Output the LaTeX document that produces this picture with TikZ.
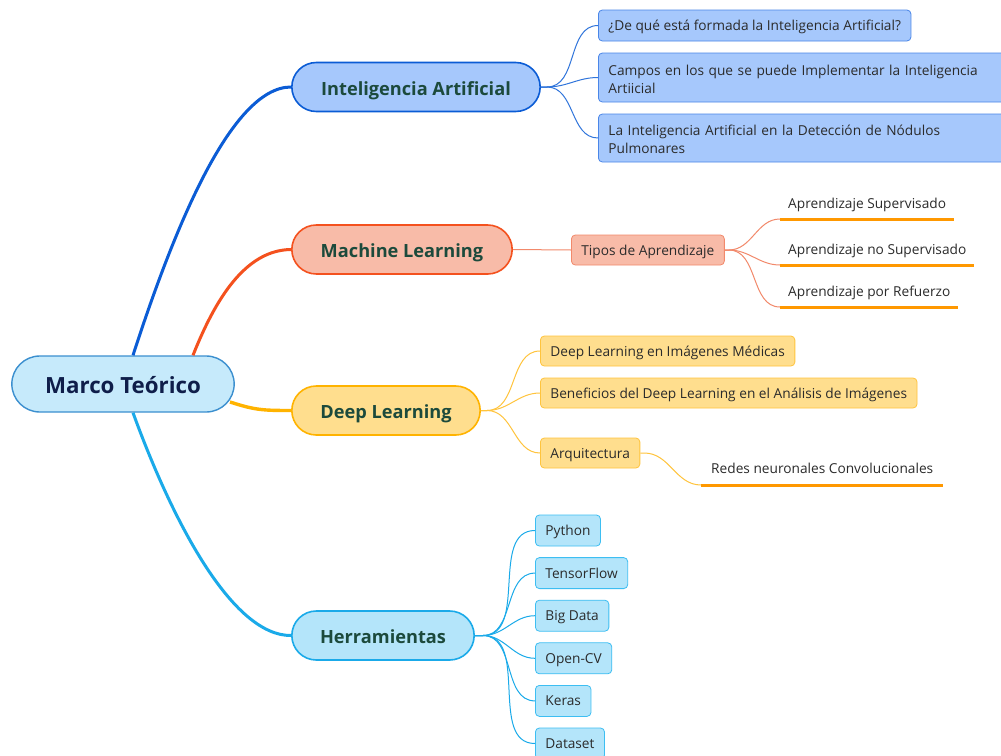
\documentclass[tikz,border=0pt]{standalone}
\usepackage{fontspec}
\setmainfont{Open Sans}
\usetikzlibrary{shapes.misc,calc}

\definecolor{centralfill}{HTML}{C6EAFB}
\definecolor{centraldraw}{HTML}{3B8FCF}
\definecolor{centraltext}{HTML}{0F1E4A}
\definecolor{topictext}{HTML}{1C4A3C}
\definecolor{leaftext}{HTML}{2B2B2B}
\definecolor{ialine}{HTML}{0B5CD5}
\definecolor{iafill}{HTML}{A6C8FC}
\definecolor{iaborder}{HTML}{4A86E8}
\definecolor{mlline}{HTML}{F4511E}
\definecolor{mlfill}{HTML}{F8BBA8}
\definecolor{mlborder}{HTML}{F2896B}
\definecolor{dlline}{HTML}{FFB300}
\definecolor{dlfill}{HTML}{FFDE8E}
\definecolor{dlborder}{HTML}{FFC43D}
\definecolor{hline}{HTML}{1AAAE9}
\definecolor{hfill}{HTML}{B4E5FA}
\definecolor{hborder}{HTML}{3DBEF2}
\definecolor{ulorange}{HTML}{FF9800}

\begin{document}
\begin{tikzpicture}[x=1pt,y=-1pt,
  central/.style={rounded rectangle, draw=centraldraw, fill=centralfill, line width=1.4pt,
    minimum width=229pt, minimum height=56pt, text=centraltext,
    font=\bfseries\fontsize{22.3}{26}\selectfont, text height=19pt, text depth=1pt},
  topic/.style={rounded rectangle, line width=1.6pt, minimum height=49pt,
    text=topictext, font=\bfseries\fontsize{18.2}{22}\selectfont,
    text height=17pt, text depth=0.6pt},
  box/.style={rectangle, rounded corners=4pt, line width=0.8pt, anchor=west,
    inner xsep=10pt, minimum height=31pt, text=leaftext, align=left,
    font=\fontsize{13.7}{18}\selectfont},
  leaf/.style={box, text height=11pt, text depth=1pt},
  twoline/.style={box, text height=11pt, text depth=16pt, text width=392pt},
  plain/.style={anchor=south west, inner xsep=8pt, minimum height=30pt,
    text=leaftext, font=\fontsize{13.7}{16}\selectfont,
    text height=11pt, text depth=1pt},
  ul/.style={ulorange, line width=3pt},
  branch/.style={line width=1pt}
]
\clip (0,0) rectangle (1001,755);
\fill[white] (0,0) rectangle (1001,755);

% central topic
\node[central] (mt) at (123,384) {Marco Teórico};

% main topics
\node[topic, draw=ialine, fill=iafill, minimum width=255pt] (ia) at (416,87) {Inteligencia Artificial};
\node[topic, draw=mlline, fill=mlfill, minimum width=227pt] (ml) at (402,249.5) {Machine Learning};
\node[topic, draw=dlline, fill=dlfill, minimum width=195pt] (dl) at (386,410.5) {Deep Learning};
\node[topic, draw=hline, fill=hfill, minimum width=189pt] (he) at (383,635.5) {Herramientas};

% main connectors
\draw[ialine, line width=3pt] ($(mt.north)+(10,0)$) .. controls (172,235) and (230,87) .. (ia.west);
\draw[mlline, line width=3pt] ($(mt.north)+(70,0)$) .. controls (215,300) and (245,250) .. (ml.west);
\draw[dlline, line width=3.4pt] ($(mt.center)+(107,18)$) .. controls (255,410) and (262,410.5) .. (dl.west);
\draw[hline, line width=3pt] ($(mt.south)+(10,0)$) .. controls (172,520) and (232,636) .. (he.west);

% Inteligencia Artificial
\node[leaf, draw=iaborder, fill=iafill] (ia1) at (598,25.5) {¿De qué está formada la Inteligencia Artificial?};
\node[twoline, draw=iaborder, fill=iafill, minimum height=49pt] (ia2) at (598,77.5)
  {Campos en los que se puede Implementar la Inteligencia\\Artiicial};
\node[twoline, draw=iaborder, fill=iafill, minimum height=48pt] (ia3) at (598,138)
  {La Inteligencia Artificial en la Detección de Nódulos\\Pulmonares};
\foreach \c in {ia1,ia2,ia3}
  \draw[branch, ialine!85] (ia.east) -- ++(6,0) to[out=0,in=180] (\c.west);

% Machine Learning
\node[leaf, draw=mlborder, fill=mlfill, minimum height=30pt] (tipos) at (571,250) {Tipos de Aprendizaje};
\draw[branch, mlborder] (ml.east) -- (tipos.west);
\node[plain] (ap1) at (780,219) {Aprendizaje Supervisado};
\node[plain] (ap2) at (780,265) {Aprendizaje no Supervisado};
\node[plain] (ap3) at (780,307) {Aprendizaje por Refuerzo};
\foreach \c in {ap1,ap2,ap3} {
  \draw[ul] (\c.south west) -- (\c.south east);
  \draw[branch, mlborder] (tipos.east) -- ++(4,0) to[out=0,in=180] (\c.south west);
}

% Deep Learning
\node[leaf, draw=dlborder, fill=dlfill, minimum height=30pt] (dl1) at (540,351) {Deep Learning en Imágenes Médicas};
\node[leaf, draw=dlborder, fill=dlfill, minimum height=30pt] (dl2) at (540,393) {Beneficios del Deep Learning en el Análisis de Imágenes};
\node[leaf, draw=dlborder, fill=dlfill, minimum height=30pt] (dl3) at (540,453) {Arquitectura};
\foreach \c in {dl1,dl2,dl3}
  \draw[branch, dlborder] (dl.east) -- ++(6,0) to[out=0,in=180] (\c.west);
\node[plain, minimum height=32pt, inner xsep=10pt] (rn) at (701,485) {Redes neuronales Convolucionales};
\draw[ul] (rn.south west) -- (rn.south east);
\draw[branch, dlborder] (dl3.east) -- ++(4,0) to[out=0,in=180] (rn.south west);

% Herramientas
\foreach \n/\t [count=\i from 0] in {h1/Python,h2/TensorFlow,h3/Big Data,h4/Open-CV,h5/Keras,h6/Dataset}
  \node[leaf, draw=hborder, fill=hfill] (\n) at (535,530.5+42.6*\i) {\t};
\foreach \c in {h1,h2,h3,h4,h5,h6}
  \draw[branch, hline] (he.east) -- ++(8,0) to[out=0,in=180] (\c.west);
\end{tikzpicture}
\end{document}
